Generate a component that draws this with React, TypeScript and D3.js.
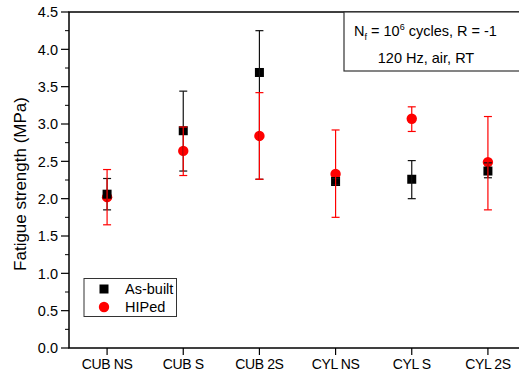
import React from "react";
import * as d3 from "d3";

const categories = ["CUB NS", "CUB S", "CUB 2S", "CYL NS", "CYL S", "CYL 2S"];
const asBuiltValues = [2.06, 2.91, 3.69, 2.23, 2.26, 2.37];
const asBuiltLow = [1.85, 2.37, 2.26, 2.19, 2.0, 2.28];
const asBuiltHigh = [2.27, 3.44, 4.25, 2.27, 2.51, 2.48];
const hipedValues = [2.02, 2.64, 2.84, 2.33, 3.07, 2.49];
const hipedLow = [1.65, 2.31, 2.26, 1.75, 2.9, 1.85];
const hipedHigh = [2.39, 2.96, 3.42, 2.92, 3.23, 3.1];
const yTicks = [0, 0.5, 1.0, 1.5, 2.0, 2.5, 3.0, 3.5, 4.0, 4.5];
const yMinorTicks = [0.25, 0.75, 1.25, 1.75, 2.25, 2.75, 3.25, 3.75, 4.25];

const W = 519;
const H = 375;
const FONT = "'Liberation Sans', Arial, sans-serif";

export default function App() {
  const left = 69, right = 526, top = 12, bottom = 348;
  const x = d3.scalePoint<string>().domain(categories).range([left, right]).padding(0.5);
  const y = d3.scaleLinear().domain([0, 4.5]).range([bottom, top]);
  const cap = 4;

  const errBar = (cx: number, lo: number, hi: number, color: string, key: string) => (
    <g key={key} stroke={color} strokeWidth={1.2}>
      <line x1={cx} x2={cx} y1={y(lo)} y2={y(hi)} />
      <line x1={cx - cap} x2={cx + cap} y1={y(lo)} y2={y(lo)} />
      <line x1={cx - cap} x2={cx + cap} y1={y(hi)} y2={y(hi)} />
    </g>
  );

  return (
    <svg width={W} height={H} style={{ position: "absolute", left: 0, top: 0, background: "#fff" }} fontFamily={FONT}>
      <rect x={0} y={0} width={W} height={H} fill="#fff" />
      {/* frame */}
      <rect x={left} y={top} width={right - left} height={bottom - top} fill="none" stroke="#000" strokeWidth={1.5} />
      {/* y ticks */}
      {yTicks.map((t) => (
        <g key={"yt" + t}>
          <line x1={left - 8} x2={left} y1={y(t)} y2={y(t)} stroke="#000" strokeWidth={1.2} />
          <text x={58} y={y(t)} dy="0.36em" textAnchor="end" fontSize={14.5} fill="#000">
            {t.toFixed(1)}
          </text>
        </g>
      ))}
      {yMinorTicks.map((t) => (
        <line key={"ym" + t} x1={left - 4} x2={left} y1={y(t)} y2={y(t)} stroke="#000" strokeWidth={1} />
      ))}
      {/* x ticks */}
      {categories.map((c) => (
        <g key={"xt" + c}>
          <line x1={x(c)!} x2={x(c)!} y1={bottom} y2={bottom + 7} stroke="#000" strokeWidth={1.2} />
          <text x={x(c)!} y={369} textAnchor="middle" fontSize={14} fill="#000" letterSpacing={-0.4}>
            {c}
          </text>
        </g>
      ))}
      {/* y label */}
      <text transform={`translate(26,184) rotate(-90)`} textAnchor="middle" fontSize={17} fill="#000">
        Fatigue strength (MPa)
      </text>
      {/* markers */}
      {categories.map((c, i) => (
        <circle key={"hc" + c} cx={x(c)!} cy={y(hipedValues[i])} r={5.2} fill="#ff0000" />
      ))}
      {categories.map((c, i) => (
        <rect key={"ab" + c} x={x(c)! - 4.5} y={y(asBuiltValues[i]) - 4.5} width={9} height={9} fill="#000" />
      ))}
      {categories.map((c, i) => errBar(x(c)!, asBuiltLow[i], asBuiltHigh[i], "#111", "ea" + c))}
      {categories.map((c, i) => errBar(x(c)!, hipedLow[i], hipedHigh[i], "#ff0000", "eh" + c))}
      {/* legend */}
      <rect x={84} y={278.5} width={92.5} height={38} fill="#fff" stroke="#333" strokeWidth={1} />
      <rect x={99.5} y={284.5} width={9} height={9} fill="#000" />
      <circle cx={104} cy={307} r={5.2} fill="#ff0000" />
      <text x={125} y={294} fontSize={14.5} fill="#000">As-built</text>
      <text x={125} y={312} fontSize={14.5} fill="#000">HIPed</text>
      {/* annotation box */}
      <rect x={344} y={12} width={190} height={59} fill="#fff" stroke="#333" strokeWidth={1.2} />
      <text x={354} y={36} fontSize={14.5} fill="#000">
        N
        <tspan fontSize={9} dy={4}>f</tspan>
        <tspan dy={-4}> = 10</tspan>
        <tspan fontSize={9} dy={-6}>6</tspan>
        <tspan dy={6}> cycles, R = -1</tspan>
      </text>
      <text x={426} y={63} textAnchor="middle" fontSize={14.5} fill="#000">
        120 Hz, air, RT
      </text>
    </svg>
  );
}
